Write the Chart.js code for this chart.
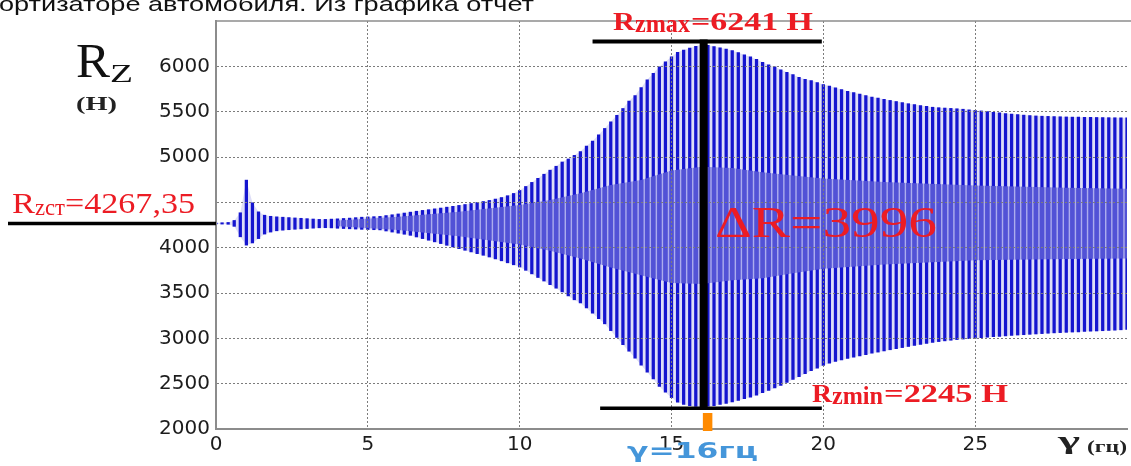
<!DOCTYPE html>
<html>
<head>
<meta charset="utf-8">
<script src="https://cdn.jsdelivr.net/npm/chart.js@4.4.1/dist/chart.umd.min.js"></script>
<style>
  html, body { margin: 0; padding: 0; background: #ffffff; overflow: hidden; }
  #wrap { position: relative; width: 1131px; height: 466px; }
</style>
</head>
<body>
<div id="wrap"><canvas id="c" width="1131" height="466"></canvas></div>
<script>
// Excitation frequency at each oscillation cycle (Гц)
const CYCLE_X = [
  0,0.2,0.4,0.6,0.8,1,1.2,1.4,1.6,1.8,
  2,2.2,2.4,2.6,2.8,3,3.2,3.4,3.6,3.8,
  4,4.2,4.4,4.6,4.8,5,5.2,5.4,5.6,5.8,
  6,6.2,6.4,6.6,6.8,7,7.2,7.4,7.6,7.8,
  8,8.2,8.4,8.6,8.8,9,9.2,9.4,9.6,9.8,
  10,10.2,10.4,10.6,10.8,11,11.2,11.4,11.6,11.8,
  12,12.2,12.4,12.6,12.8,13,13.2,13.4,13.6,13.8,
  14,14.2,14.4,14.6,14.8,15,15.2,15.4,15.6,15.8,
  16,16.2,16.4,16.6,16.8,17,17.2,17.4,17.6,17.8,
  18,18.2,18.4,18.6,18.8,19,19.2,19.4,19.6,19.8,
  20,20.2,20.4,20.6,20.8,21,21.2,21.4,21.6,21.8,
  22,22.2,22.4,22.6,22.8,23,23.2,23.4,23.6,23.8,
  24,24.2,24.4,24.6,24.8,25,25.2,25.4,25.6,25.8,
  26,26.2,26.4,26.6,26.8,27,27.2,27.4,27.6,27.8,
  28,28.2,28.4,28.6,28.8,29,29.2,29.4,29.6,29.8,30
];

// Peak wheel load Rz in each cycle (Н)
const R_UPPER = [
  4272,4275,4278,4300,4385,4745,4495,4395,4358,4346,
  4340,4336,4332,4328,4324,4320,4316,4312,4312,4315,
  4318,4322,4326,4331,4336,4339,4342,4345,4354,4363,
  4372,4382,4392,4402,4411,4419,4428,4437,4447,4456,
  4466,4476,4487,4498,4509,4521,4536,4553,4573,4598,
  4631,4675,4720,4765,4810,4855,4898,4945,4978,5018,
  5060,5120,5175,5245,5315,5388,5460,5535,5617,5678,
  5765,5852,5924,5995,6050,6106,6155,6179,6202,6222,
  6241,6232,6218,6205,6191,6173,6152,6126,6104,6076,
  6045,6016,5995,5962,5935,5908,5880,5858,5844,5822,
  5800,5782,5764,5744,5725,5710,5695,5677,5660,5650,
  5636,5624,5612,5600,5588,5578,5568,5558,5549,5544,
  5540,5536,5532,5527,5520,5514,5508,5501,5494,5487,
  5480,5474,5468,5462,5457,5453,5450,5448,5446,5444,
  5442,5440,5439,5438,5437,5436,5435,5434,5433,5432,5432
];

// Minimum wheel load Rz in each cycle (Н)
const R_LOWER = [
  4263,4260,4258,4235,4120,4028,4052,4100,4150,4172,
  4186,4193,4198,4203,4207,4211,4215,4219,4220,4218,
  4214,4211,4208,4205,4202,4200,4198,4196,4184,4172,
  4160,4148,4136,4118,4100,4082,4064,4045,4026,4008,
  3989,3971,3953,3934,3916,3897,3876,3855,3833,3811,
  3787,3750,3711,3671,3632,3592,3553,3512,3468,3425,
  3390,3335,3277,3218,3160,3085,3010,2930,2858,2782,
  2705,2628,2552,2470,2405,2345,2297,2270,2256,2249,
  2245,2251,2258,2270,2283,2298,2315,2335,2352,2374,
  2400,2425,2452,2482,2514,2546,2578,2610,2642,2672,
  2702,2726,2745,2762,2778,2793,2807,2821,2835,2848,
  2861,2874,2886,2898,2910,2922,2933,2944,2955,2964,
  2972,2979,2986,2992,2997,3002,3007,3012,3017,3022,
  3027,3032,3036,3040,3044,3048,3052,3056,3060,3063,
  3066,3069,3072,3075,3078,3081,3084,3087,3090,3094,3098
];

// Dense core of the oscillation (Н)
const BAND_X    = [4, 6, 8, 10, 11, 12, 13, 14, 15, 16, 17, 18, 19, 20, 22, 25, 28, 30];
const BAND_HIGH = [4300,4340,4395,4470,4525,4600,4690,4745,4850,4892,4880,4833,4795,4762,4725,4686,4662,4650];
const BAND_LOW  = [4235,4195,4125,4035,3965,3880,3780,3695,3610,3598,3640,3662,3718,3768,3815,3860,3875,3880];

// Axis ticks (labels hidden where the figure covers them)
const X_TICKS = [0, 5, 10, 15, 20, 25, 30];
const Y_TICKS = [2000, 2500, 3000, 3500, 4000, 4500, 5000, 5500, 6000, 6500];
const X_HIDDEN = [30];
const Y_HIDDEN = [4500, 6500];

// Key values
const RZ_ST = 4267.35;
const RZ_MAX = 6241;
const RZ_MIN = 2245;
const DELTA_R = RZ_MAX - RZ_MIN;
const GAMMA_RES = 16;

const GRID = '#7c7c7c';
const RED = '#ec1c24';

function bandPattern(chart) {
  const xs = chart.scales && chart.scales.x;
  if (!xs) return '#5454d6';
  const p0 = xs.getPixelForValue(CYCLE_X[0]);
  const p1 = xs.getPixelForValue(CYCLE_X[1]);
  const period = p1 - p0;
  if (!isFinite(period) || period <= 0) return '#5454d6';
  const tile = document.createElement('canvas');
  tile.width = 12; tile.height = 2;
  const t = tile.getContext('2d');
  t.fillStyle = '#5252d6';
  t.fillRect(0, 0, 12, 2);
  t.fillStyle = '#acacee';
  t.fillRect(4.6, 0, 2.8, 2);
  const pat = chart.ctx.createPattern(tile, 'repeat');
  if (pat.setTransform) {
    pat.setTransform(new DOMMatrix().translateSelf(p0, 0).scaleSelf(period / 12, 1));
  }
  return pat;
}

function fitText(ctx, text, font, x, base, width, color) {
  ctx.save();
  ctx.font = font;
  ctx.fillStyle = color;
  ctx.textAlign = 'left';
  ctx.textBaseline = 'alphabetic';
  const w = ctx.measureText(text).width || 1;
  ctx.translate(x, base);
  ctx.scale(width / w, 1);
  ctx.fillText(text, 0, 0);
  ctx.restore();
}

function hLine(ctx, x1, x2, y, w, color) {
  ctx.save();
  ctx.strokeStyle = color;
  ctx.lineWidth = w;
  ctx.beginPath();
  ctx.moveTo(x1, y);
  ctx.lineTo(x2, y);
  ctx.stroke();
  ctx.restore();
}

const annotations = {
  id: 'annotations',
  afterDraw(chart) {
    const ctx = chart.ctx;
    const xs = chart.scales.x, ys = chart.scales.y, a = chart.chartArea;

    // top frame line
    hLine(ctx, a.left - 1, chart.width, a.top, 1.6, '#8c8c8c');

    // static load level
    const yst = ys.getPixelForValue(RZ_ST);
    hLine(ctx, 8, a.left, yst, 3.5, '#000');
    fitText(ctx, 'R', '30px "Liberation Serif"', 12, 213, 23, RED);
    fitText(ctx, 'zст', '24px "Liberation Serif"', 35, 215, 30, RED);
    fitText(ctx, '=' + RZ_ST.toFixed(2).replace('.', ','), '30px "Liberation Serif"', 65, 213, 130, RED);

    // max / min markers and the swing between them
    const yMax = ys.getPixelForValue(RZ_MAX) - 3;
    const yMin = ys.getPixelForValue(RZ_MIN) + 1.5;
    hLine(ctx, xs.getPixelForValue(12.4), xs.getPixelForValue(19.95), yMax, 4, '#000');
    hLine(ctx, xs.getPixelForValue(12.65), xs.getPixelForValue(19.95), yMin, 3.5, '#000');
    const xr = xs.getPixelForValue(GAMMA_RES) + 1.8;
    ctx.save();
    ctx.strokeStyle = '#000';
    ctx.lineWidth = 8;
    ctx.beginPath();
    ctx.moveTo(xr, yMax - 2);
    ctx.lineTo(xr, yMin);
    ctx.stroke();
    ctx.fillStyle = '#ff8a00';
    ctx.fillRect(xr - 0.8, 413, 9.5, 18);
    ctx.restore();

    fitText(ctx, 'R', 'bold 26px "Liberation Serif"', 613, 30, 22, RED);
    fitText(ctx, 'zmax', 'bold 25px "Liberation Serif"', 635, 32, 55, RED);
    fitText(ctx, '=' + RZ_MAX + ' Н', 'bold 26px "Liberation Serif"', 691, 30, 122, RED);

    fitText(ctx, 'R', 'bold 26px "Liberation Serif"', 812, 402, 20, RED);
    fitText(ctx, 'zmin', 'bold 25px "Liberation Serif"', 832, 404, 51, RED);
    fitText(ctx, '=' + RZ_MIN + ' Н', 'bold 26px "Liberation Serif"', 884, 402, 124, RED);

    fitText(ctx, 'ΔR=' + DELTA_R, '44px "Liberation Serif"', 715, 237, 222, RED);

    // resonance frequency caption
    fitText(ctx, 'γ=' + GAMMA_RES + 'гц', 'bold 21px "DejaVu Sans"', 627, 458, 131, '#4596da');

    // axis titles
    fitText(ctx, 'R', '48px "Liberation Serif"', 76, 77, 34, '#111');
    fitText(ctx, 'Z', '25px "Liberation Serif"', 110, 82, 23, '#111');
    fitText(ctx, '(Н)', 'bold 18px "Liberation Serif"', 76, 110, 41, '#222');
    fitText(ctx, 'γ', 'bold 26px "Liberation Serif"', 1058, 449, 22, '#222');
    fitText(ctx, '(гц)', 'bold 16px "Liberation Serif"', 1087, 452, 40, '#222');

    // running text of the page above the figure
    fitText(ctx, 'ортизаторе автомобиля. Из графика отчет', '21px "Liberation Sans"', -1, 11, 535, '#111');
  }
};

const xyUpper = CYCLE_X.map((x, i) => ({ x, y: R_UPPER[i] }));
const xyLower = CYCLE_X.map((x, i) => ({ x, y: R_LOWER[i] }));
const cycles  = CYCLE_X.map((x, i) => ({ x, y: [R_LOWER[i], R_UPPER[i]] }));
const bandHi  = BAND_X.map((x, i) => ({ x, y: BAND_HIGH[i] }));
const bandLo  = BAND_X.map((x, i) => ({ x, y: BAND_LOW[i] }));

new Chart(document.getElementById('c'), {
  type: 'bar',
  data: {
    datasets: [
      { type: 'line', label: 'envelope max', data: xyUpper, order: 5,
        borderWidth: 0, borderColor: 'rgba(0,0,0,0)', pointRadius: 0,
        fill: '+1', backgroundColor: '#dedef7', tension: 0 },
      { type: 'line', label: 'envelope min', data: xyLower, order: 5,
        borderWidth: 0, borderColor: 'rgba(0,0,0,0)', pointRadius: 0,
        fill: false, tension: 0 },
      { type: 'bar', label: 'Rz', data: cycles, order: 3,
        backgroundColor: '#1515cf', borderWidth: 0, barThickness: 2.6, grouped: false },
      { type: 'line', label: 'core max', data: bandHi, order: 1,
        borderWidth: 0, borderColor: 'rgba(0,0,0,0)', pointRadius: 0,
        fill: '+1', backgroundColor: (c) => bandPattern(c.chart), tension: 0 },
      { type: 'line', label: 'core min', data: bandLo, order: 1,
        borderWidth: 0, borderColor: 'rgba(0,0,0,0)', pointRadius: 0,
        fill: false, tension: 0 }
    ]
  },
  options: {
    responsive: false,
    animation: false,
    devicePixelRatio: 1,
    layout: { padding: { left: 0, right: 3, top: 21, bottom: 0 } },
    plugins: { legend: { display: false }, tooltip: { enabled: false } },
    scales: {
      x: {
        type: 'linear', min: X_TICKS[0], max: X_TICKS[X_TICKS.length - 1], offset: false,
        afterFit(s) { s.height = 37; },
        afterBuildTicks(s) { s.ticks = X_TICKS.map(v => ({ value: v })); },
        ticks: {
          maxRotation: 0, padding: 4, color: '#1c1c1c',
          font: { family: 'DejaVu Sans', size: 20 },
          callback: (v) => (X_HIDDEN.includes(v) ? '' : v)
        },
        grid: {
          offset: false, z: 1, drawTicks: false, lineWidth: 1,
          color: (c) => (c.tick && c.tick.value === 30 ? 'rgba(0,0,0,0)' : GRID)
        },
        border: { display: true, z: 2, color: '#8c8c8c', width: 2, dash: [2, 2] }
      },
      y: {
        type: 'linear', min: Y_TICKS[0], max: Y_TICKS[Y_TICKS.length - 1],
        afterFit(s) { s.width = 216; },
        afterBuildTicks(s) { s.ticks = Y_TICKS.map(v => ({ value: v })); },
        ticks: {
          padding: 6, color: '#1c1c1c',
          font: { family: 'DejaVu Sans', size: 20 },
          callback: (v) => (Y_HIDDEN.includes(v) ? '' : v)
        },
        grid: {
          offset: false, z: 1, drawTicks: false, lineWidth: 1,
          color: (c) => (c.tick && c.tick.value === 6500 ? 'rgba(0,0,0,0)' : GRID)
        },
        border: { display: true, z: 2, color: '#8c8c8c', width: 2, dash: [2, 2] }
      }
    }
  },
  plugins: [annotations]
});
</script>
</body>
</html>
